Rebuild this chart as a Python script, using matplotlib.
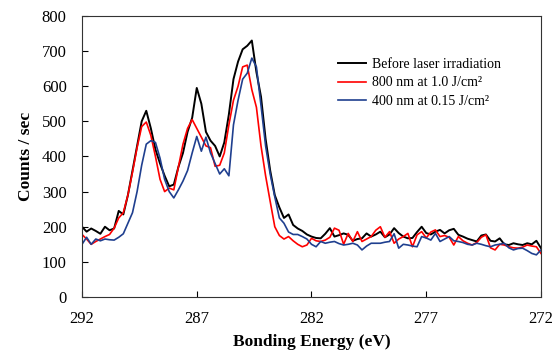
import numpy as np
import matplotlib
matplotlib.use("Agg")
import matplotlib.pyplot as plt

plt.rcParams["font.family"] = ["Liberation Serif", "DejaVu Serif"]

# ---------------- data ----------------
energy = np.round(np.arange(292.0, 271.9, -0.2), 1)

before = [200, 186, 195, 188, 180, 200, 190, 195, 245, 235,
          290, 360, 430, 500, 530, 480, 420, 380, 345, 315,
          320, 370, 410, 470, 510, 595, 550, 470, 445, 430,
          400, 440, 520, 620, 670, 705, 715, 730, 640, 570,
          450, 360, 290, 255, 225, 235, 205, 195, 188, 178,
          172, 168, 167, 180, 196, 172, 176, 181, 177, 160,
          165, 167, 181, 172, 178, 186, 170, 178, 196, 182,
          172, 167, 168, 185, 200, 182, 178, 186, 191, 181,
          190, 194, 177, 172, 166, 162, 158, 175, 178, 160,
          158, 167, 150, 148, 153, 150, 148, 153, 150, 160,
          139]

nm800 = [178, 165, 150, 158, 165, 172, 178, 196, 225, 240,
         290, 355, 425, 485, 498, 460, 400, 335, 300, 310,
         305, 370, 435, 480, 505, 480, 455, 430, 425, 372,
         375, 410, 490, 560, 600, 655, 660, 590, 540, 430,
         345, 272, 200, 175, 165, 172, 160, 150, 143, 148,
         167, 160, 158, 162, 170, 196, 190, 150, 181, 158,
         186, 158, 165, 172, 190, 200, 170, 186, 153, 165,
         172, 181, 143, 177, 186, 168, 185, 191, 172, 175,
         170, 148, 172, 160, 153, 148, 155, 170, 177, 140,
         134, 150, 148, 143, 140, 139, 142, 148, 145, 143,
         124]

nm400 = [150, 170, 150, 165, 160, 165, 163, 162, 170, 180,
         210, 240, 300, 375, 435, 445, 440, 395, 335, 300,
         282, 305, 330, 360, 410, 457, 415, 455, 410, 380,
         350, 365, 345, 490, 560, 620, 637, 680, 655, 545,
         430, 350, 285, 225, 210, 185, 178, 178, 172, 165,
         150, 143, 158, 153, 156, 158, 152, 148, 150, 153,
         148, 134, 145, 153, 153, 153, 156, 158, 180, 139,
         150, 148, 145, 143, 172, 168, 162, 181, 158, 165,
         172, 160, 158, 155, 150, 148, 153, 150, 146, 143,
         148, 150, 153, 140, 134, 138, 139, 132, 124, 120,
         134]

labels = ["Before laser irradiation",
          "800 nm at 1.0 J/cm²",
          "400 nm at 0.15 J/cm²"]
colors = ["#000000", "#FF0000", "#1F3F8F"]

# ---------------- plot ----------------
fig = plt.figure(figsize=(5.56, 3.54), dpi=100)
ax = fig.add_axes([0.1475, 0.161, 0.8255, 0.794])

for y, lab, c, lw in zip([before, nm800, nm400], labels, colors, [1.4, 1.2, 1.2]):
    ax.plot(energy, y, color=c, linewidth=lw, label=lab)

ax.set_xlim(292, 272)
ax.set_ylim(0, 800)
ax.set_xticks([292, 287, 282, 277, 272])
ax.set_yticks(range(0, 801, 100))
ax.tick_params(direction="in", labelsize=12, length=4, width=0.8)
ax.tick_params(axis="x", pad=10)
ax.tick_params(axis="y", pad=11)
for s in ax.spines.values():
    s.set_linewidth(0.8)
    s.set_color("#333333")

ax.set_xlabel("Bonding Energy (eV)", fontsize=12.5, fontweight="bold", labelpad=5)
ax.set_ylabel("Counts / sec", fontsize=12.5, fontweight="bold", labelpad=6)

ax.legend(loc="upper left", bbox_to_anchor=(0.53, 0.895), frameon=False,
          fontsize=10, handlelength=2.0, handletextpad=0.5, labelspacing=0.4)

fig.savefig("out.png", dpi=100)
